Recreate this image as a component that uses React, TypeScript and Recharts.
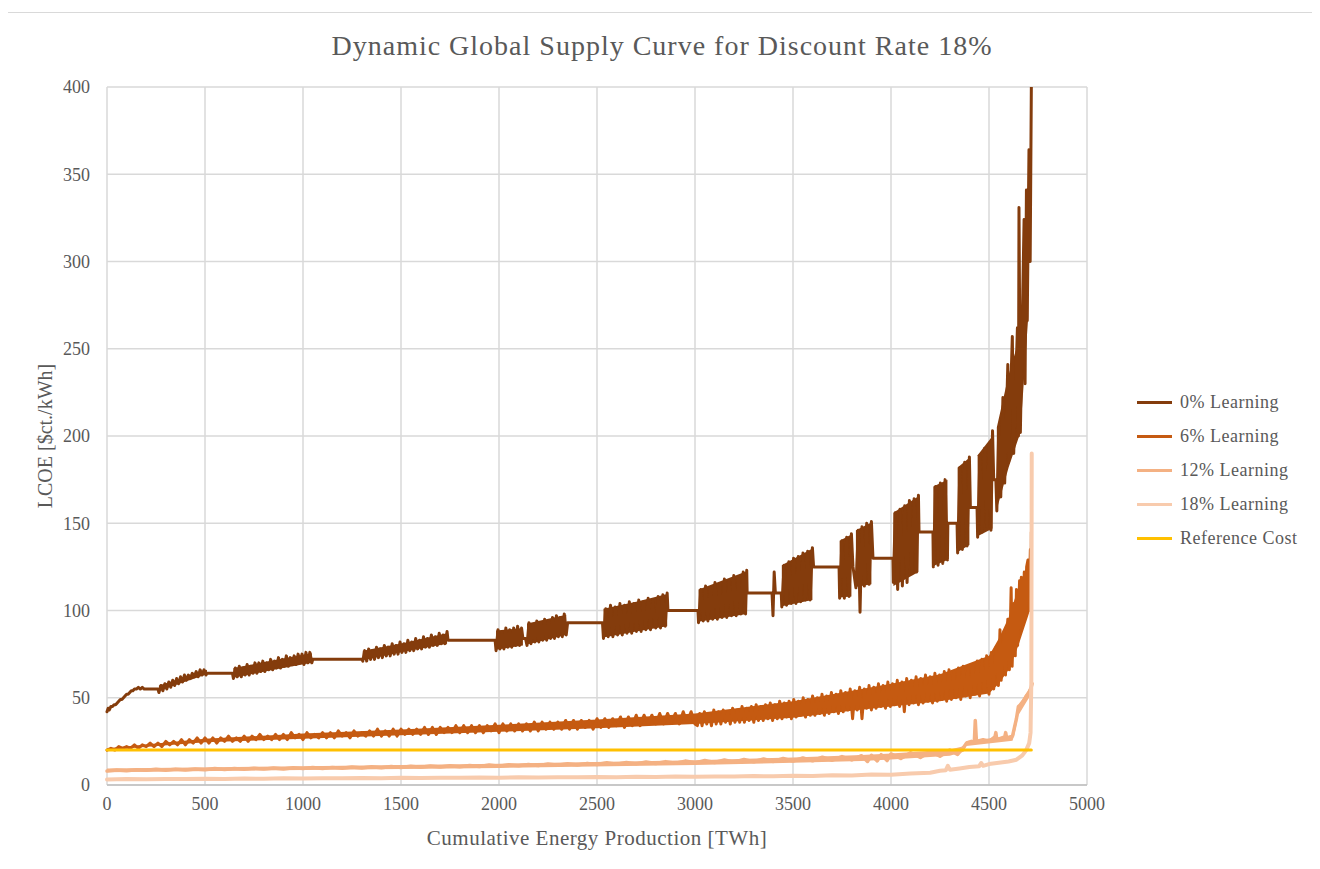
import React from "react";
import { ComposedChart, Line, Area, XAxis, YAxis, CartesianGrid } from "recharts";

type Pt = [number, number];
type Band = [number, number, number][]; // x, low, high of the dense oscillation

const X_TICKS = [0, 500, 1000, 1500, 2000, 2500, 3000, 3500, 4000, 4500, 5000];
const Y_TICKS = [0, 50, 100, 150, 200, 250, 300, 350, 400];

// 0% learning: dense oscillating blocks joined by flat steps
const learning0: Pt[] = [
  [0, 42], [6, 44], [12, 43], [20, 45], [28, 45], [36, 46], [44, 46], [52, 47], [60, 48], [68, 49], [76, 49], [84, 50],
  [92, 51], [100, 52], [108, 52], [116, 53], [124, 54], [132, 54], [140, 55], [150, 55], [160, 56], [170, 55], [180, 56], [190, 55],
  [260, 55],
  [265, 53], [275, 57], [285, 54], [295, 58], [305, 55], [315, 59], [325, 56], [335, 60], [345, 57], [355, 61], [365, 58], [375, 62],
  [385, 59], [395, 63], [405, 60], [415, 63], [425, 61], [435, 64], [445, 62], [455, 65], [465, 62], [475, 66], [485, 63], [495, 66],
  [505, 63], [510, 64],
  [640, 64],
  [645, 61], [655, 67], [665, 62], [675, 68], [685, 62], [695, 67], [705, 63], [715, 69], [725, 63], [735, 68], [745, 64], [755, 70],
  [765, 64], [775, 70], [785, 65], [795, 71], [805, 65], [815, 70], [825, 66], [835, 72], [845, 66], [855, 71], [865, 67], [875, 73],
  [885, 67], [895, 72], [905, 68], [915, 74], [925, 68], [935, 73], [945, 69], [955, 74], [965, 69], [975, 75], [985, 70], [995, 75],
  [1005, 69], [1015, 76], [1025, 70], [1035, 76], [1045, 70], [1050, 72],
  [1300, 72],
  [1305, 71], [1315, 77], [1325, 71], [1335, 78], [1345, 72], [1355, 77], [1365, 72], [1375, 79], [1385, 73], [1395, 78], [1405, 73],
  [1415, 80], [1425, 74], [1435, 79], [1445, 74], [1455, 81], [1465, 75], [1475, 80], [1485, 75], [1495, 82], [1505, 76], [1515, 81],
  [1525, 76], [1535, 83], [1545, 77], [1555, 82], [1565, 77], [1575, 84], [1585, 78], [1595, 83], [1605, 78], [1615, 85], [1625, 79],
  [1635, 84], [1645, 79], [1655, 86], [1665, 80], [1675, 85], [1685, 80], [1695, 87], [1705, 81], [1715, 86], [1725, 81], [1735, 88],
  [1740, 83],
  [1980, 83],
  [1985, 77], [1995, 89], [2005, 78], [2015, 88], [2025, 78], [2035, 90], [2045, 79], [2055, 89], [2065, 79], [2075, 90], [2085, 80],
  [2095, 91], [2105, 80], [2115, 90], [2122, 84], [2135, 84],
  [2143, 80], [2153, 93], [2163, 81], [2173, 92], [2183, 82], [2193, 94], [2203, 82], [2213, 93], [2223, 83], [2233, 95], [2243, 83],
  [2253, 94], [2263, 84], [2273, 96], [2283, 84], [2293, 97], [2303, 85], [2313, 96], [2323, 85], [2333, 98], [2343, 86], [2350, 93],
  [2528, 93],
  [2533, 84], [2545, 101], [2557, 85], [2569, 103], [2581, 85], [2593, 102], [2605, 86], [2617, 104], [2629, 86], [2641, 103],
  [2653, 87], [2665, 105], [2677, 87], [2689, 104], [2701, 88], [2713, 106], [2725, 88], [2737, 105], [2749, 89], [2761, 107],
  [2773, 89], [2785, 106], [2790, 98], [2800, 90], [2812, 108], [2824, 90], [2836, 109], [2848, 91], [2858, 110], [2862, 100],
  [3015, 100],
  [3018, 93], [3030, 112], [3042, 94], [3054, 114], [3066, 94], [3078, 113], [3090, 95], [3102, 116], [3114, 95], [3126, 115],
  [3138, 96], [3150, 118], [3162, 96], [3174, 117], [3186, 97], [3198, 120], [3210, 97], [3222, 119], [3234, 98], [3246, 122],
  [3258, 98], [3264, 123], [3266, 110],
  [3393, 110], [3398, 97], [3404, 122], [3410, 110], [3440, 110],
  [3443, 102], [3455, 126], [3467, 103], [3479, 128], [3491, 104], [3503, 130], [3515, 104], [3527, 131], [3539, 105], [3551, 133],
  [3563, 106], [3575, 134], [3587, 106], [3599, 136], [3605, 125],
  [3735, 125],
  [3738, 107], [3750, 140], [3762, 107], [3774, 142], [3786, 108], [3798, 144], [3806, 125],
  [3821, 113], [3833, 146], [3842, 99], [3852, 148], [3864, 114], [3876, 150], [3888, 115], [3900, 151], [3908, 130],
  [4010, 130],
  [4012, 116], [4022, 156], [4034, 112], [4046, 158], [4058, 114], [4070, 160], [4082, 116], [4094, 163], [4100, 140], [4106, 121],
  [4118, 164], [4130, 122], [4140, 166], [4143, 145],
  [4214, 145],
  [4216, 125], [4228, 171], [4240, 126], [4252, 173], [4264, 127], [4276, 175], [4288, 129], [4290, 150],
  [4337, 150],
  [4340, 133], [4352, 182], [4364, 135], [4376, 185], [4388, 137], [4400, 188], [4405, 159],
  [4439, 159],
  [4442, 142], [4454, 189], [4466, 145], [4478, 193], [4490, 148], [4500, 195], [4510, 146], [4518, 203], [4524, 175],
  [4535, 175],
  [4540, 157], [4550, 205], [4560, 165], [4571, 222], [4580, 173], [4596, 241], [4600, 185], [4619, 257], [4626, 190],
  [4645, 262], [4650, 200], [4653, 331], [4660, 202], [4679, 324], [4684, 230], [4691, 341], [4695, 266], [4704, 364],
  [4710, 300], [4716, 400],
];

// filled core of each dense 0% block
const band0: Band[] = [
  [[265, 54, 57], [510, 63.5, 66]],
  [[645, 61.5, 67], [850, 66, 71.5], [1045, 70, 75.5]],
  [[1305, 71.5, 77], [1520, 76.5, 81.5], [1735, 81, 87]],
  [[1985, 77.5, 88.5], [2122, 80, 90]],
  [[2143, 80.5, 92.5], [2343, 86, 97.5]],
  [[2533, 84.5, 101], [2700, 88, 105], [2858, 91, 109.5]],
  [[3018, 93.5, 112], [3264, 98, 122.5]],
  [[3443, 102.5, 126], [3599, 106, 135.5]],
  [[3738, 107.5, 140], [3798, 108, 143.5]],
  [[3821, 113.5, 146], [3900, 115, 150.5]],
  [[4012, 114, 156], [4140, 122, 165.5]],
  [[4216, 125.5, 171], [4288, 129, 175]],
  [[4340, 133.5, 182], [4400, 137.5, 187.5]],
  [[4442, 142.5, 189], [4518, 147, 200]],
  [[4540, 158, 205], [4600, 182, 235], [4660, 202, 258], [4700, 268, 335]],
];

// 6% learning
const learning6: Pt[] = [
  [0, 20], [20, 21], [40, 20], [60, 22], [80, 21], [100, 22], [120, 21], [140, 23], [160, 21], [180, 23], [200, 22], [220, 24],
  [240, 22], [260, 24], [280, 22], [300, 25], [320, 23], [340, 25], [360, 23], [380, 26], [400, 23], [420, 26], [440, 24], [460, 27],
  [480, 24], [500, 27], [520, 24], [540, 27], [560, 24], [580, 27], [600, 25], [620, 28], [640, 25], [660, 27], [680, 25], [700, 28],
  [720, 25], [740, 28], [760, 26], [780, 29], [800, 26], [820, 28], [840, 26], [860, 29], [880, 26], [900, 29], [920, 26], [940, 30],
  [960, 27], [980, 29], [1000, 26], [1020, 30], [1040, 27], [1060, 29], [1080, 27], [1100, 30], [1120, 27], [1140, 30], [1160, 27],
  [1180, 31], [1200, 28], [1220, 30], [1240, 27], [1260, 31], [1280, 28], [1300, 30], [1320, 28], [1340, 31], [1360, 28], [1380, 32],
  [1400, 28], [1420, 31], [1440, 28], [1460, 32], [1480, 28], [1500, 32], [1520, 29], [1540, 32], [1560, 29], [1580, 32], [1600, 29],
  [1620, 33], [1640, 29], [1660, 33], [1680, 29], [1700, 33], [1720, 30], [1740, 33], [1760, 30], [1780, 34], [1800, 30], [1820, 34],
  [1840, 30], [1860, 34], [1880, 30], [1900, 34], [1920, 30], [1940, 34], [1960, 31], [1980, 35], [2000, 30], [2020, 35], [2040, 31],
  [2060, 35], [2080, 31], [2100, 35], [2120, 31], [2140, 35], [2160, 31], [2180, 36], [2200, 31], [2220, 36], [2240, 32], [2260, 36],
  [2280, 32], [2300, 36], [2320, 32], [2340, 37], [2360, 32], [2380, 37], [2400, 32], [2420, 37], [2440, 33], [2460, 37], [2480, 32],
  [2500, 38], [2520, 33], [2540, 38], [2560, 33], [2580, 38], [2600, 34], [2620, 39], [2640, 33], [2660, 39], [2680, 34], [2700, 40],
  [2720, 34], [2740, 40], [2760, 35], [2780, 40], [2800, 35], [2820, 41], [2840, 35], [2860, 41], [2880, 36], [2900, 41], [2920, 35],
  [2940, 42], [2960, 36], [2980, 42], [3000, 35],
  [3012, 34], [3024, 41], [3036, 34], [3048, 42], [3060, 35], [3072, 41], [3084, 34], [3096, 43], [3108, 35], [3120, 42], [3132, 35],
  [3144, 43], [3156, 36], [3168, 42], [3180, 35], [3192, 44], [3204, 36], [3216, 43], [3228, 36], [3240, 45], [3252, 36], [3264, 44],
  [3276, 37], [3288, 45], [3300, 36], [3312, 46], [3324, 37], [3336, 45], [3348, 37], [3360, 46], [3372, 38], [3384, 47], [3396, 37],
  [3408, 46], [3420, 38], [3432, 48], [3444, 38], [3456, 47], [3468, 39], [3480, 48], [3492, 38], [3504, 49], [3516, 39], [3528, 48],
  [3540, 40], [3552, 50], [3564, 39], [3576, 49], [3588, 40], [3600, 51], [3612, 40], [3624, 50], [3636, 41], [3648, 52], [3660, 40],
  [3672, 51], [3684, 41], [3696, 53], [3708, 42], [3720, 52], [3732, 41], [3744, 54], [3756, 42], [3768, 53], [3780, 43], [3792, 55],
  [3804, 38], [3816, 54], [3828, 43], [3840, 56], [3852, 38], [3864, 55], [3876, 44], [3888, 57], [3900, 43], [3912, 56], [3924, 44],
  [3936, 58], [3948, 45], [3960, 57], [3972, 44], [3984, 59], [3996, 45], [4008, 58], [4020, 46], [4032, 60], [4044, 45], [4056, 59],
  [4068, 42], [4080, 61], [4092, 46], [4104, 60], [4116, 47], [4128, 62], [4140, 46], [4152, 61], [4164, 47], [4176, 63], [4188, 48],
  [4200, 62], [4212, 47], [4224, 64], [4236, 48], [4248, 63], [4260, 49], [4272, 65], [4284, 48], [4296, 66], [4308, 49], [4320, 65],
  [4332, 50], [4344, 67], [4356, 49], [4368, 68], [4380, 51], [4392, 67], [4404, 50], [4416, 69], [4428, 52], [4440, 71], [4452, 51],
  [4464, 72], [4476, 53], [4488, 74], [4500, 52], [4512, 76], [4524, 55], [4536, 79], [4548, 57], [4556, 89], [4562, 60], [4577, 88],
  [4584, 63], [4596, 95], [4604, 66], [4613, 113], [4618, 68], [4628, 104], [4634, 74], [4640, 112], [4646, 80], [4656, 117],
  [4660, 90], [4665, 119], [4672, 92], [4680, 122], [4686, 96], [4692, 125], [4699, 129], [4704, 100], [4711, 135], [4714, 102],
  [4716, 145],
];

const band6: Band[] = [
  [
    [0, 20, 21], [500, 24.5, 26.5], [1000, 26.5, 29.5], [1500, 28.5, 31.8], [2000, 30.5, 34.5], [2500, 32.5, 37.5],
    [3000, 35, 41], [3500, 38.5, 48], [3800, 42.5, 54], [4000, 45, 58], [4250, 48, 63.5], [4500, 52.5, 74], [4550, 58, 84],
    [4600, 66, 96], [4650, 80, 113], [4700, 97, 127], [4714, 102, 138],
  ],
];

// 12% learning
const learning12: Pt[] = [
  [0, 8], [50, 8.6], [100, 8.2], [150, 8.8], [200, 8.4], [250, 9], [300, 8.5], [350, 9.1], [400, 8.6], [450, 9.2], [500, 8.8],
  [550, 9.4], [600, 8.9], [650, 9.5], [700, 9], [750, 9.6], [800, 9.1], [850, 9.7], [900, 9.2], [950, 9.9], [1000, 9.4], [1050, 10],
  [1100, 9.5], [1150, 10.1], [1200, 9.6], [1250, 10.3], [1300, 9.8], [1350, 10.4], [1400, 9.9], [1450, 10.6], [1500, 10],
  [1550, 10.7], [1600, 10.2], [1650, 10.9], [1700, 10.3], [1750, 11], [1800, 10.5], [1850, 11.2], [1900, 10.6], [1950, 11.4],
  [2000, 10.8], [2050, 11.6], [2100, 11], [2150, 11.8], [2200, 11.1], [2250, 12], [2300, 11.3], [2350, 12.2], [2400, 11.5],
  [2450, 12.4], [2500, 11.7], [2550, 12.7], [2600, 11.9], [2650, 12.9], [2700, 12.1], [2750, 13.2], [2800, 12.3], [2850, 13.4],
  [2900, 12.5], [2950, 13.7], [3000, 12.7], [3050, 14], [3100, 12.9], [3150, 14.3], [3200, 13.1], [3250, 14.6], [3300, 13.3],
  [3350, 14.9], [3400, 13.5], [3450, 15.2], [3500, 13.7], [3550, 15.5], [3600, 13.9], [3650, 15.9], [3700, 14.2], [3750, 16.3],
  [3800, 14.4], [3850, 16.8], [3880, 13.5], [3900, 17], [3930, 13.8], [3950, 17.4], [3980, 14], [4000, 17.8], [4050, 15.2],
  [4100, 18.5], [4150, 15.8], [4200, 19.2], [4250, 16.5], [4300, 20], [4340, 17.5], [4370, 21.5], [4385, 24], [4410, 25],
  [4425, 24.5], [4430, 37], [4436, 25], [4470, 26], [4500, 25], [4530, 27.5], [4535, 30], [4540, 26], [4580, 27.5], [4585, 30],
  [4590, 27], [4620, 28], [4630, 33], [4640, 38], [4650, 45], [4660, 46], [4675, 48], [4690, 51], [4705, 53], [4715, 56],
  [4720, 58],
];

const band12: Band[] = [
  [
    [0, 7.3, 9.4], [1000, 8.6, 10.8], [2000, 9.8, 12.2], [3000, 11.4, 14.2], [3500, 12.7, 15.8], [3850, 13.8, 17.2],
    [4000, 14.6, 18.1], [4300, 16.8, 20.4], [4370, 19, 22.2], [4385, 22.3, 25.2], [4620, 25.3, 28.2], [4630, 29, 32.8],
    [4650, 40, 45.5], [4720, 53, 58],
  ],
];

// 18% learning
const learning18: Pt[] = [
  [0, 3.2], [100, 3.4], [200, 3.3], [300, 3.5], [400, 3.4], [500, 3.6], [600, 3.5], [700, 3.7], [800, 3.6], [900, 3.8],
  [1000, 3.7], [1100, 3.9], [1200, 3.8], [1300, 4], [1400, 3.9], [1500, 4.1], [1600, 4], [1700, 4.2], [1800, 4.1], [1900, 4.3],
  [2000, 4.2], [2100, 4.4], [2200, 4.3], [2300, 4.5], [2400, 4.4], [2500, 4.6], [2600, 4.5], [2700, 4.7], [2800, 4.6], [2900, 4.8],
  [3000, 4.7], [3100, 4.9], [3200, 4.8], [3300, 5.1], [3400, 5], [3500, 5.3], [3600, 5.2], [3700, 5.6], [3800, 5.5], [3900, 6],
  [4000, 5.9], [4100, 6.6], [4200, 7], [4250, 8.2], [4280, 8.5], [4290, 11], [4300, 8.8], [4350, 9.5], [4400, 10.3], [4450, 10.8],
  [4460, 12.6], [4470, 11], [4500, 12], [4550, 12.8], [4600, 13.5], [4640, 14.5], [4670, 17], [4690, 20], [4705, 24], [4712, 30],
  [4716, 60], [4718, 190],
];

const referenceCost: Pt[] = [[0, 20], [4716, 20]];

const SERIES = [
  { name: "0% Learning", color: "#843C0C", data: learning0, bands: band0, width: 3 },
  { name: "6% Learning", color: "#C55A11", data: learning6, bands: band6, width: 3 },
  { name: "12% Learning", color: "#F4B183", data: learning12, bands: band12, width: 3.5 },
  { name: "18% Learning", color: "#F8CBAD", data: learning18, bands: [] as Band[], width: 4 },
  { name: "Reference Cost", color: "#FFC000", data: referenceCost, bands: [] as Band[], width: 3 },
];

const FONT = '"Liberation Serif", "Times New Roman", serif';
const TEXT = "#595959";

const toRows = (pts: Pt[]) => pts.map(([x, y]) => ({ x, y }));
const toBandRows = (b: Band) => b.map(([x, lo, hi]) => ({ x, range: [lo, hi] }));

export default function App() {
  return (
    <div
      style={{
        position: "relative",
        width: 1310,
        height: 870,
        marginLeft: -1,
        marginTop: 4,
        border: "1px solid #D9D9D9",
        boxSizing: "border-box",
        background: "#fff",
        fontFamily: FONT,
        color: TEXT,
      }}
    >
      <div style={{ position: "absolute", left: 0, right: 0, top: 17, textAlign: "center", fontSize: 28, lineHeight: "32px", letterSpacing: 1 }}>
        Dynamic Global Supply Curve for Discount Rate 18%
      </div>

      <div style={{ position: "absolute", left: 0, top: 0 }}>
        <ComposedChart width={1300} height={850} margin={{ top: 74, right: 221, bottom: 48, left: 39 }}>
          <CartesianGrid stroke="#D9D9D9" strokeWidth={1.5} />
          <XAxis
            type="number"
            dataKey="x"
            domain={[0, 5000]}
            ticks={X_TICKS}
            height={30}
            tickLine={false}
            tickSize={0}
            tickMargin={12}
            axisLine={{ stroke: "#BFBFBF", strokeWidth: 1.5 }}
            tick={{ fill: TEXT, fontSize: 18, fontFamily: FONT }}
          />
          <YAxis
            type="number"
            domain={[0, 400]}
            ticks={Y_TICKS}
            allowDataOverflow
            width={60}
            tickLine={false}
            tickSize={0}
            tickMargin={17}
            axisLine={false}
            tick={{ fill: TEXT, fontSize: 18, fontFamily: FONT }}
          />
          {SERIES.flatMap((s) => [
            ...s.bands.map((b, i) => (
              <Area
                key={`${s.name}-band-${i}`}
                data={toBandRows(b)}
                dataKey="range"
                type="linear"
                stroke="none"
                fill={s.color}
                fillOpacity={1}
                dot={false}
                activeDot={false}
                isAnimationActive={false}
              />
            )),
            <Line
              key={s.name}
              data={toRows(s.data)}
              dataKey="y"
              type="linear"
              stroke={s.color}
              strokeWidth={s.width}
              strokeLinejoin="round"
              strokeLinecap="round"
              dot={false}
              activeDot={false}
              isAnimationActive={false}
            />,
          ])}
        </ComposedChart>
      </div>

      <div style={{ position: "absolute", left: 99, width: 980, top: 813, textAlign: "center", fontSize: 21, lineHeight: "24px", letterSpacing: 0.5 }}>
        Cumulative Energy Production [TWh]
      </div>

      <div
        style={{
          position: "absolute",
          left: 37,
          top: 423,
          transform: "translate(-50%, -50%) rotate(-90deg)",
          whiteSpace: "nowrap",
          fontSize: 20,
          lineHeight: "24px",
        }}
      >
        LCOE [$ct./kWh]
      </div>

      {SERIES.map((s, i) => (
        <div key={s.name} style={{ position: "absolute", left: 1129, top: 389 + i * 34 - 12, height: 24, display: "flex", alignItems: "center" }}>
          <div style={{ width: 35, height: 3, background: s.color }} />
          <span style={{ marginLeft: 8, fontSize: 18, letterSpacing: 0.5, whiteSpace: "nowrap" }}>{s.name}</span>
        </div>
      ))}
    </div>
  );
}
